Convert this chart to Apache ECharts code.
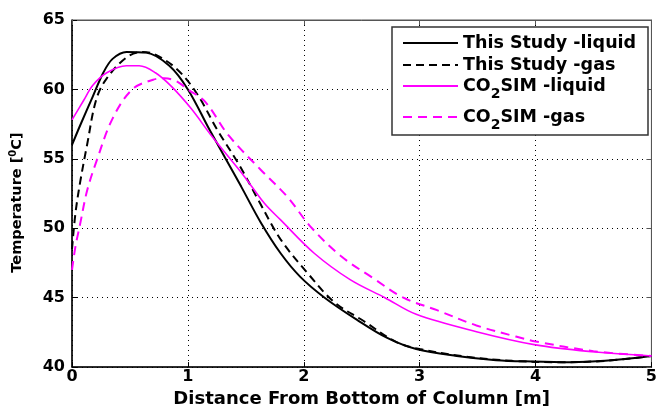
<!DOCTYPE html>
<html>
<head>
<meta charset="utf-8">
<script src="https://cdn.jsdelivr.net/npm/echarts@6/dist/echarts.min.js"></script>
<style>html,body{margin:0;padding:0;background:#fff}#c{width:660px;height:413px}</style>
</head>
<body>
<div id="c"></div>
<script>
// ---- data ----
const xTicks = [0, 1, 2, 3, 4, 5];
const yTicks = [40, 45, 50, 55, 60, 65];

const studyLiqX = [0, 0.07, 0.18, 0.27, 0.35, 0.47, 0.64, 0.84, 1.0, 1.18, 1.32, 1.46, 1.63, 1.80, 1.97, 2.18, 2.46, 2.72, 2.97, 3.32, 3.66, 3.97, 4.3, 4.6, 5.0];
const studyLiqY = [56.0, 57.4, 59.5, 61.2, 62.2, 62.7, 62.65, 61.7, 60.0, 57.2, 55.1, 53.0, 50.4, 48.2, 46.5, 45.0, 43.4, 42.1, 41.3, 40.8, 40.5, 40.4, 40.35, 40.45, 40.8];

const studyGasX = [0, 0.03, 0.07, 0.13, 0.21, 0.3, 0.47, 0.61, 0.72, 0.9, 1.07, 1.26, 1.44, 1.61, 1.8, 2.03, 2.26, 2.52, 2.8, 3.0, 3.4, 3.8, 4.2, 4.6, 5.0];
const studyGasY = [48.5, 51.1, 53.3, 56.0, 59.3, 60.8, 62.3, 62.7, 62.5, 61.5, 59.8, 57.0, 54.6, 52.0, 49.2, 46.8, 44.7, 43.3, 41.8, 41.3, 40.75, 40.45, 40.35, 40.45, 40.8];

const simLiqX = [0, 0.1, 0.18, 0.3, 0.47, 0.58, 0.72, 0.86, 1.03, 1.2, 1.49, 1.66, 1.8, 2.09, 2.4, 2.7, 2.97, 3.49, 4.0, 4.5, 5.0];
const simLiqY = [57.8, 59.2, 60.3, 61.2, 61.7, 61.7, 61.2, 60.2, 58.6, 56.7, 53.7, 51.8, 50.6, 48.2, 46.3, 45.0, 43.8, 42.55, 41.6, 41.1, 40.8];

const simGasX = [0, 0.03, 0.07, 0.13, 0.21, 0.35, 0.52, 0.7, 0.8, 0.9, 1.0, 1.15, 1.35, 1.63, 1.86, 2.06, 2.32, 2.6, 2.86, 3.15, 3.49, 3.83, 4.0, 4.5, 5.0];
const simGasY = [47.0, 48.7, 50.3, 52.7, 54.8, 57.9, 60.0, 60.7, 60.8, 60.6, 60.0, 59.1, 56.7, 54.2, 52.25, 50.1, 48.0, 46.4, 45.0, 44.1, 43.0, 42.2, 41.85, 41.15, 40.8];

const seriesNames = ['This Study -liquid', 'This Study -gas', 'CO2SIM -liquid', 'CO2SIM -gas'];
const xTitle = 'Distance From Bottom of Column [m]';

// ---- chart ----
const pair = (xs, ys) => xs.map((x, i) => [x, ys[i]]);
const FONT = 'DejaVu Sans';
const chart = echarts.init(document.getElementById('c'), null, {renderer: 'canvas'});

function legendFmt(name) {
  if (name.indexOf('CO2') === 0) {
    return '{m|CO}{s|2}{m|' + name.slice(3) + '}';
  }
  return '{m|' + name + '}';
}
const legendRich = {
  m: {fontFamily: FONT, fontWeight: 'bold', fontSize: 17.5, color: '#000'},
  s: {fontFamily: FONT, fontWeight: 'bold', fontSize: 14, color: '#000', padding: [16, 0, 0, 0]}
};
const legendTops = [34, 56, 77, 108];
const legends = seriesNames.map((n, i) => ({
  data: [n], left: 402, top: legendTops[i], padding: 0, itemWidth: 55, itemHeight: 14, itemGap: 0,
  formatter: legendFmt, textStyle: {rich: legendRich}, z: 6, selectedMode: false,
  itemStyle: {opacity: 0}
}));

const lineCommon = {type: 'line', symbol: 'none', smooth: 0.35, animation: false};

chart.setOption({
  animation: false,
  grid: {left: 72, right: 4, top: 20, bottom: 40, show: true, borderColor: '#555', borderWidth: 1},
  legend: legends,
  graphic: [{type: 'rect', shape: {x: 392, y: 27, width: 256, height: 108}, style: {fill: '#fff', stroke: '#333', lineWidth: 1.5}, z: 3}],
  xAxis: [{
    type: 'value', min: xTicks[0], max: xTicks[xTicks.length - 1], interval: 1,
    name: xTitle, nameLocation: 'middle', nameGap: 21,
    nameTextStyle: {fontFamily: FONT, fontWeight: 'bold', fontSize: 18, color: '#000'},
    axisLine: {show: true, onZero: false, lineStyle: {color: '#000', width: 1.5}},
    axisTick: {show: true, inside: true, length: 5, lineStyle: {color: '#000'}},
    axisLabel: {fontFamily: FONT, fontWeight: 'bold', fontSize: 16, color: '#000', margin: 2},
    splitLine: {show: true, lineStyle: {type: [1, 4], color: '#000', width: 1}}
  }, {
    type: 'value', position: 'top', min: 0, max: 5, interval: 1,
    axisLine: {show: true, onZero: false, lineStyle: {color: '#555'}},
    axisTick: {show: true, inside: true, length: 5, lineStyle: {color: '#555'}},
    axisLabel: {show: false}, splitLine: {show: false}
  }],
  yAxis: [{
    type: 'value', min: yTicks[0], max: yTicks[yTicks.length - 1], interval: 5,
    name: '{m|Temperature [}{p|0}{m|C]}', nameLocation: 'middle', nameGap: 46, nameRotate: 90,
    nameTextStyle: {padding: [0, 18, 0, 0], rich: {
      m: {fontFamily: FONT, fontWeight: 'bold', fontSize: 14.5, color: '#000'},
      p: {fontFamily: FONT, fontWeight: 'bold', fontSize: 10, color: '#000', padding: [0, 0, 8, 0]}
    }},
    axisLine: {show: true, onZero: false, lineStyle: {color: '#000', width: 1.5}},
    axisTick: {show: true, inside: true, length: 5, lineStyle: {color: '#000'}},
    axisLabel: {fontFamily: FONT, fontWeight: 'bold', fontSize: 16, color: '#000', margin: 7},
    splitLine: {show: true, lineStyle: {type: [1, 4], color: '#000', width: 1}}
  }, {
    type: 'value', position: 'right', min: 40, max: 65, interval: 5,
    axisLine: {show: true, onZero: false, lineStyle: {color: '#555'}},
    axisTick: {show: true, inside: true, length: 5, lineStyle: {color: '#555'}},
    axisLabel: {show: false}, splitLine: {show: false}
  }],
  series: [
    Object.assign({}, lineCommon, {name: seriesNames[0], data: pair(studyLiqX, studyLiqY), lineStyle: {color: '#000', width: 2, type: 'solid'}, itemStyle: {color: '#000'}}),
    Object.assign({}, lineCommon, {name: seriesNames[1], data: pair(studyGasX, studyGasY), lineStyle: {color: '#000', width: 2, type: [8, 5]}, itemStyle: {color: '#000'}}),
    Object.assign({}, lineCommon, {name: seriesNames[2], data: pair(simLiqX, simLiqY), lineStyle: {color: '#ff00ff', width: 1.6, type: 'solid'}, itemStyle: {color: '#ff00ff'}}),
    Object.assign({}, lineCommon, {name: seriesNames[3], data: pair(simGasX, simGasY), lineStyle: {color: '#ff00ff', width: 2, type: [9, 6]}, itemStyle: {color: '#ff00ff'}})
  ]
});
</script>
</body>
</html>
